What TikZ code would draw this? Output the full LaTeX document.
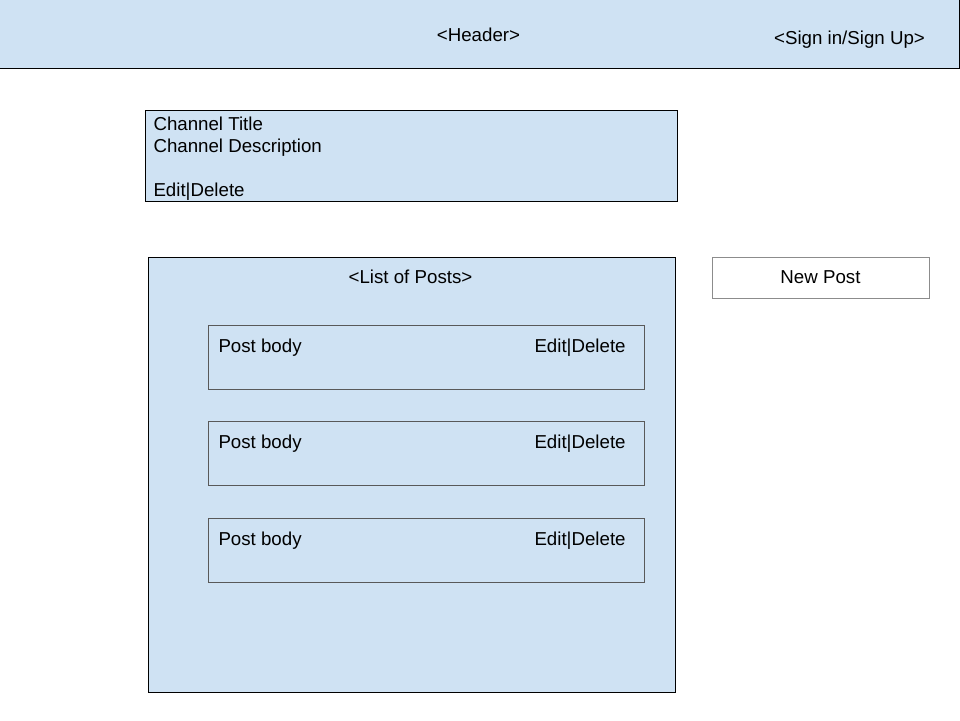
\documentclass[tikz,border=0pt]{standalone}
\usepackage{fontspec}
\setmainfont{Liberation Sans}
\definecolor{paneblue}{HTML}{CFE2F3}
\definecolor{postline}{HTML}{595959}
\definecolor{btnline}{HTML}{8C8C8C}
\begin{document}
\begin{tikzpicture}[x=.5pt,y=-.5pt,line width=.5pt,
  lbl/.style={inner sep=0,font=\fontsize{9.35}{11}\selectfont}]
\useasboundingbox (0,0) rectangle (960,720);
\fill[white] (0,0) rectangle (960,720);
\draw[fill=paneblue] (-2,-2) rectangle (959,68);
\node[lbl,anchor=base] (header) at (478.5,41) {<Header>};
\node[lbl,anchor=base] (signin) at (849.5,44) {<Sign in/Sign Up>};
\draw[fill=paneblue] (145,110) rectangle (677,201);
\foreach \n/\y/\t in {ctitle/130/Channel Title,cdesc/152/Channel Description,cedit/196/Edit|Delete}{
\node[lbl,anchor=base west] (\n) at (153,\y) {\t};}
\draw[fill=paneblue] (148,257) rectangle (675,692);
\node[lbl,anchor=base] (posts) at (410.5,283) {<List of Posts>};
\draw[btnline,line width=.45pt] (712,257) rectangle (929,298);
\node[lbl,anchor=base] (newpost) at (820.5,283) {New Post};
\foreach \i/\t in {1/325,2/421,3/518}{
\draw[postline,line width=.45pt] (208,\t) rectangle (644,\t+64);
\node[lbl,anchor=base west] (body\i) at (218,\t+27) {Post body};
\node[lbl,anchor=base west] (edit\i) at (534,\t+27) {Edit|Delete};}
\end{tikzpicture}
\end{document}
